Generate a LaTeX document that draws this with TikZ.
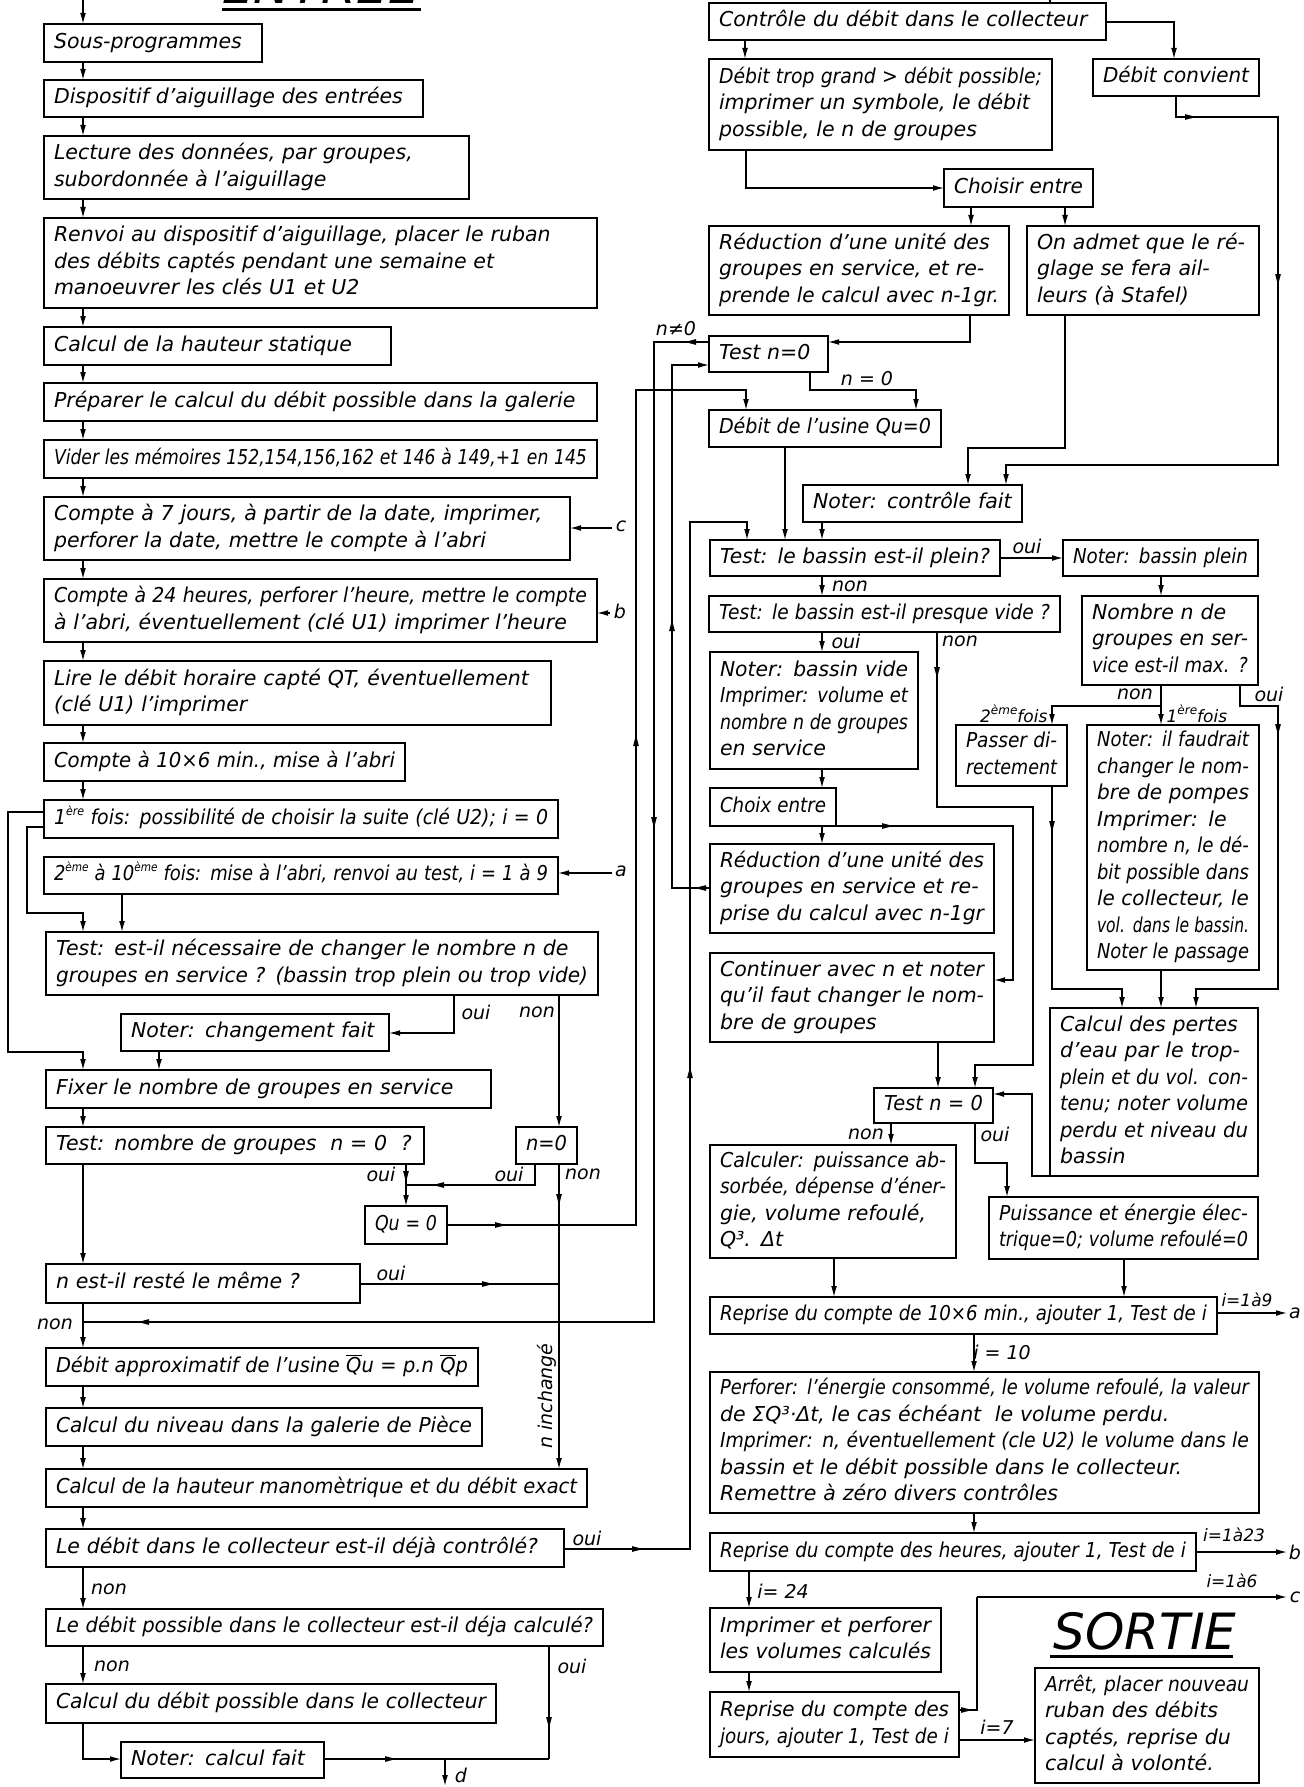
\documentclass[tikz,border=0pt]{standalone}
\usepackage{fontspec}
\setmainfont{DejaVu Sans}[ItalicFont={DejaVu Sans Oblique}]
\usepackage{graphicx}
\usetikzlibrary{arrows.meta}
\newsavebox\flbox
\newcommand\fitl[1]{\strut\sbox\flbox{#1}\ifdim\wd\flbox>\linewidth\resizebox{\linewidth}{\height}{\usebox\flbox}\else\usebox\flbox\fi}
\newcommand\mainf{\fontsize{20.5}{26.5}\selectfont\itshape}
\newcommand\labf{\fontsize{19}{22}\selectfont\itshape}
\newcommand\smf{\fontsize{17}{20}\selectfont\itshape}
\newcommand\titf{\fontsize{50}{56}\selectfont\itshape}
\newcommand\sups[1]{\raisebox{0.45em}{\fontsize{12}{12}\selectfont #1}}
\newcommand\Qb{$\overline{\hbox{Q}}$}
\newcommand\bxx[6]{\pgfmathsetmacro\bw{#4-#2}\pgfmathsetmacro\bh{#5-#3}\pgfmathsetmacro\tw{#4-#2-20}%
  \node[bx,minimum width=\bw pt,minimum height=\bh pt,text width=\tw pt] (#1) at (#2,#3) {#6};}
% mid-line arrowheads (filled triangles), tip near the given point
\newcommand\arD[2]{\fill (#1,#2+5) -- (#1-2.9,#2-6) -- (#1+2.9,#2-6) -- cycle;}
\newcommand\arU[2]{\fill (#1,#2-5) -- (#1-2.9,#2+6) -- (#1+2.9,#2+6) -- cycle;}
\newcommand\arR[2]{\fill (#1+5,#2) -- (#1-6,#2-2.9) -- (#1-6,#2+2.9) -- cycle;}
\newcommand\arL[2]{\fill (#1-5,#2) -- (#1+6,#2-2.9) -- (#1+6,#2+2.9) -- cycle;}
\begin{document}
\begin{tikzpicture}[x=1pt,y=-1pt,line width=1.3pt,
  arr/.style={-{Latex[length=11pt,width=5.8pt]}},
  bx/.style={draw, anchor=north west, inner xsep=10pt, inner ysep=2pt, outer sep=0pt, align=left, font=\mainf},
  lab/.style={font=\labf, inner sep=0pt},
  sml/.style={font=\smf, inner sep=0pt}]
\useasboundingbox (0,0) rectangle (1303,1787);

% titles
\node[font=\titf, anchor=base, inner sep=0pt] (ent) at (321,4) {ENTRÉE};
\draw[line width=3pt] (222,10) -- (421,10);
\node[font=\titf, anchor=base, inner sep=0pt] (sor) at (1145,1649) {SORTIE};
\draw[line width=3pt] (1050,1656) -- (1233,1656);

% left column
\bxx{L1}{44}{24}{262}{62}{\fitl{Sous-programmes}}
\bxx{L2}{44}{80}{423}{117}{\fitl{Dispositif d'aiguillage des entrées}}
\bxx{L3}{44}{136}{469}{199}{\fitl{Lecture des données, par groupes,}\\\fitl{subordonnée à l'aiguillage}}
\bxx{L4}{44}{218}{597}{308}{\fitl{Renvoi au dispositif d'aiguillage, placer le ruban}\\\fitl{des débits captés pendant une semaine et}\\\fitl{manoeuvrer les clés U1 et U2}}
\bxx{L5}{44}{327}{391}{365}{\fitl{Calcul de la hauteur statique}}
\bxx{L6}{44}{383}{597}{421}{\fitl{Préparer le calcul du débit possible dans la galerie}}
\bxx{L7}{44}{440}{597}{478}{\fitl{Vider les mémoires 152,154,156,162 et 146 à 149,+1 en 145}}
\bxx{L8}{44}{497}{570}{560}{\fitl{Compte à 7 jours, à partir de la date, imprimer,}\\\fitl{perforer la date, mettre le compte à l'abri}}
\bxx{L9}{44}{579}{597}{642}{\fitl{Compte à 24 heures, perforer l'heure, mettre le compte}\\\fitl{à l'abri, éventuellement (clé U1) imprimer l'heure}}
\bxx{L10}{44}{661}{551}{725}{\fitl{Lire le débit horaire capté QT, éventuellement}\\\fitl{(clé U1) l'imprimer}}
\bxx{L11}{44}{743}{405}{781}{\fitl{Compte à 10×6 min., mise à l'abri}}
\bxx{L12}{44}{800}{558}{838}{\fitl{1\sups{ère} fois: possibilité de choisir la suite (clé U2); i = 0}}
\bxx{L13}{44}{857}{558}{894}{\fitl{2\sups{ème} à 10\sups{ème} fois: mise à l'abri, renvoi au test, i = 1 à 9}}
\bxx{L14}{46}{932}{598}{995}{\fitl{Test: est-il nécessaire de changer le nombre n de}\\\fitl{groupes en service ? (bassin trop plein ou trop vide)}}
\bxx{L15}{121}{1014}{389}{1051}{\fitl{Noter: changement fait}}
\bxx{L16}{46}{1070}{491}{1108}{\fitl{Fixer le nombre de groupes en service}}
\bxx{L17}{46}{1127}{424}{1164}{\fitl{Test: nombre de groupes \ n = 0 \ ?}}
\bxx{L18}{516}{1127}{577}{1164}{\fitl{n=0}}
\bxx{L19}{365}{1206}{447}{1244}{\fitl{Qu = 0}}
\bxx{L20}{46}{1264}{360}{1303}{\fitl{n est-il resté le même ?}}
\bxx{L21}{46}{1348}{478}{1386}{\fitl{Débit approximatif de l'usine \Qb u = p.n \Qb p}}
\bxx{L22}{46}{1408}{482}{1446}{\fitl{Calcul du niveau dans la galerie de Pièce}}
\bxx{L23}{46}{1469}{587}{1507}{\fitl{Calcul de la hauteur manomètrique et du débit exact}}
\bxx{L24}{46}{1529}{564}{1567}{\fitl{Le débit dans le collecteur est-il déjà contrôlé?}}
\bxx{L25}{46}{1609}{603}{1646}{\fitl{Le débit possible dans le collecteur est-il déja calculé?}}
\bxx{L26}{46}{1684}{496}{1723}{\fitl{Calcul du débit possible dans le collecteur}}
\bxx{L27}{121}{1742}{324}{1778}{\fitl{Noter: calcul fait}}

% right column
\bxx{R1}{709}{3}{1106}{40}{\fitl{Contrôle du débit dans le collecteur}}
\bxx{R2}{709}{59}{1052}{150}{\fitl{Débit trop grand > débit possible;}\\\fitl{imprimer un symbole, le débit}\\\fitl{possible, le n de groupes}}
\bxx{R3}{1093}{59}{1259}{96}{\fitl{Débit convient}}
\bxx{R4}{944}{169}{1093}{207}{\fitl{Choisir entre}}
\bxx{R5}{709}{226}{1009}{315}{\fitl{Réduction d'une unité des}\\\fitl{groupes en service, et re-}\\\fitl{prende le calcul avec n-1gr.}}
\bxx{R6}{1027}{226}{1259}{315}{\fitl{On admet que le ré-}\\\fitl{glage se fera ail-}\\\fitl{leurs (à Stafel)}}
\bxx{R7}{709}{336}{828}{372}{\fitl{Test n=0}}
\bxx{R8}{709}{410}{941}{447}{\fitl{Débit de l'usine Qu=0}}
\bxx{R9}{803}{485}{1022}{522}{\fitl{Noter: contrôle fait}}
\bxx{R10}{710}{540}{1000}{576}{\fitl{Test: le bassin est-il plein?}}
\bxx{R11}{1063}{540}{1258}{576}{\fitl{Noter: bassin plein}}
\bxx{R12}{709}{596}{1060}{632}{\fitl{Test: le bassin est-il presque vide ?}}
\bxx{R13}{1082}{596}{1258}{685}{\fitl{Nombre n de}\\\fitl{groupes en ser-}\\\fitl{vice est-il max. ?}}
\bxx{R14}{710}{652}{918}{769}{\fitl{Noter: bassin vide}\\\fitl{Imprimer: volume et}\\\fitl{nombre n de groupes}\\\fitl{en service}}
\bxx{R15}{956}{725}{1067}{786}{\fitl{Passer di-}\\\fitl{rectement}}
\bxx{R16}{1087}{725}{1259}{970}{\fitl{Noter: il faudrait}\\\fitl{changer le nom-}\\\fitl{bre de pompes}\\\fitl{Imprimer: le}\\\fitl{nombre n, le dé-}\\\fitl{bit possible dans}\\\fitl{le collecteur, le}\\\fitl{vol. dans le bassin.}\\\fitl{Noter le passage}}
\bxx{R17}{710}{788}{836}{826}{\fitl{Choix entre}}
\bxx{R18}{710}{844}{994}{933}{\fitl{Réduction d'une unité des}\\\fitl{groupes en service et re-}\\\fitl{prise du calcul avec n-1gr}}
\bxx{R19}{710}{953}{994}{1042}{\fitl{Continuer avec n et noter}\\\fitl{qu'il faut changer le nom-}\\\fitl{bre de groupes}}
\bxx{R20}{1050}{1008}{1258}{1176}{\fitl{Calcul des pertes}\\\fitl{d'eau par le trop-}\\\fitl{plein et du vol. con-}\\\fitl{tenu; noter volume}\\\fitl{perdu et niveau du}\\\fitl{bassin}}
\bxx{R21}{874}{1088}{993}{1123}{\fitl{Test n = 0}}
\bxx{R22}{710}{1145}{956}{1258}{\fitl{Calculer: puissance ab-}\\\fitl{sorbée, dépense d'éner-}\\\fitl{gie, volume refoulé,}\\\fitl{Q³. Δt}}
\bxx{R23}{989}{1197}{1258}{1259}{\fitl{Puissance et énergie élec-}\\\fitl{trique=0; volume refoulé=0}}
\bxx{R24}{710}{1297}{1217}{1334}{\fitl{Reprise du compte de 10×6 min., ajouter 1, Test de i}}
\bxx{R25}{710}{1372}{1259}{1513}{\fitl{Perforer: l'énergie consommé, le volume refoulé, la valeur}\\\fitl{de ΣQ³·Δt, le cas échéant \ le volume perdu.}\\\fitl{Imprimer: n, éventuellement (cle U2) le volume dans le}\\\fitl{bassin et le débit possible dans le collecteur.}\\\fitl{Remettre à zéro divers contrôles}}
\bxx{R26}{710}{1533}{1196}{1571}{\fitl{Reprise du compte des heures, ajouter 1, Test de i}}
\bxx{R27}{710}{1608}{941}{1672}{\fitl{Imprimer et perforer}\\\fitl{les volumes calculés}}
\bxx{R28}{710}{1692}{959}{1757}{\fitl{Reprise du compte des}\\\fitl{jours, ajouter 1, Test de i}}
\bxx{R29}{1035}{1668}{1259}{1783}{\fitl{Arrêt, placer nouveau}\\\fitl{ruban des débits}\\\fitl{captés, reprise du}\\\fitl{calcul à volonté.}}

% ---------- left connectors
\draw[arr] (83,0) -- (L1.north -| 83,0);
\foreach \a/\b in {L1/L2,L2/L3,L3/L4,L4/L5,L5/L6,L6/L7,L7/L8,L8/L9,L9/L10,L10/L11,L11/L12,L16/L17,L17/L20,L20/L21,L21/L22,L22/L23,L23/L24,L24/L25,L25/L26}
  \draw[arr] (\a.south -| 83,0) -- (\b.north -| 83,0);
\draw[arr] (L12.west |- 0,827) -- (27,827) -- (27,913) -- (83,913) -- (L14.north -| 83,0);
\draw[arr] (L12.west |- 0,812) -- (8,812) -- (8,1052) -- (83,1052) -- (L16.north -| 83,0);
\draw[arr] (L13.south -| 122,0) -- (L14.north -| 122,0);
\draw[arr] (612,528) -- (L8.east |- 0,528);
\node[lab] (lc) at (621,526) {c};
\draw[arr] (610,613) -- (L9.east |- 0,613);
\node[lab] (lb) at (620,611) {b};
\draw[arr] (612,873) -- (L13.east |- 0,873);
\node[lab] (la) at (621,871) {a};
\draw[arr] (L14.south -| 454,0) -- (454,1033) -- (L15.east |- 0,1033);
\draw[arr] (L14.south -| 559,0) -- (L18.north -| 559,0);
\node[lab] at (476,1012) {oui};
\node[lab] at (537,1012) {non};
\draw[arr] (L15.south -| 159,0) -- (L16.north -| 159,0);
\draw[arr] (L17.south -| 406,0) -- (L19.north -| 406,0);
\arD{406}{1177}
\node[lab] at (381,1174) {oui};
\draw (L18.south -| 535,0) -- (535,1185) -- (406,1185);
\arL{438}{1185}
\node[lab] at (509,1174) {oui};
\draw[arr] (L18.south -| 559,0) -- (L23.north -| 559,0);
\arD{559}{1200}
\node[lab] at (583,1174) {non};
\node[lab, rotate=90] at (547,1396) {n inchangé};
\draw[arr] (L19.east |- 0,1225) -- (636,1225) -- (636,390) -- (746,390) -- (R8.north -| 746,0);
\arR{501}{1225}
\arU{636}{740}
\draw (L20.east |- 0,1284) -- (559,1284);
\arR{488}{1284}
\node[lab] at (391,1273) {oui};
\node[lab] at (55,1324) {non};
\draw (R7.west |- 0,342) -- (654,342) -- (654,1322) -- (83,1322);
\arL{690}{342}
\arD{654}{823}
\arL{143}{1322}
\node[lab] at (676,329) {n≠0};
\draw[arr] (L24.east |- 0,1549) -- (690,1549) -- (690,522) -- (747,522) -- (R10.north -| 747,0);
\arR{638}{1549}
\arU{690}{1072}
\node[lab] at (587,1538) {oui};
\node[lab] at (109,1589) {non};
\node[lab] at (112,1666) {non};
\draw (L25.south -| 549,0) -- (549,1759);
\arD{549}{1723}
\node[lab] at (572,1666) {oui};
\draw[arr] (L26.south -| 83,0) -- (83,1759) -- (L27.west |- 0,1759);
\draw (L27.east |- 0,1759) -- (549,1759);
\arR{391}{1759}
\draw[arr] (445,1759) -- (445,1786);
\node[lab] (ld) at (461,1775) {d};

% ---------- right connectors
\draw (1050,0) -- (R1.north -| 1050,0);
\draw[arr] (R1.east |- 0,22) -- (1174,22) -- (R3.north -| 1174,0);
\draw[arr] (R1.south -| 745,0) -- (R2.north -| 745,0);
\draw[arr] (R2.south -| 746,0) -- (746,188) -- (R4.west |- 0,188);
\draw[arr] (R4.south -| 971,0) -- (R5.north -| 971,0);
\draw[arr] (R4.south -| 1065,0) -- (R6.north -| 1065,0);
\draw[arr] (R3.south -| 1176,0) -- (1176,117) -- (1278,117) -- (1278,465) -- (1006,465) -- (R9.north -| 1006,0);
\arR{1191}{117}
\arD{1278}{280}
\draw[arr] (R5.south -| 970,0) -- (970,342) -- (R7.east |- 0,342);
\draw[arr] (R18.west |- 0,888) -- (672,888) -- (672,365) -- (R7.west |- 0,365);
\arL{700}{888}
\arU{672}{625}
\draw[arr] (R7.south -| 810,0) -- (810,390) -- (916,390) -- (R8.north -| 916,0);
\node[lab] at (867,379) {n = 0};
\draw[arr] (R8.south -| 785,0) -- (R10.north -| 785,0);
\draw[arr] (R6.south -| 1065,0) -- (1065,448) -- (968,448) -- (R9.north -| 968,0);
\draw[arr] (R9.south -| 822,0) -- (R10.north -| 822,0);
\draw[arr] (R10.east |- 0,558) -- (R11.west |- 0,558);
\node[lab] at (1027,546) {oui};
\draw[arr] (R10.south -| 822,0) -- (R12.north -| 822,0);
\node[lab] at (850,586) {non};
\draw[arr] (R11.south -| 1161,0) -- (R13.north -| 1161,0);
\draw[arr] (R12.south -| 822,0) -- (R14.north -| 822,0);
\node[lab] at (846,641) {oui};
\draw[arr] (R12.south -| 937,0) -- (937,807) -- (1033,807) -- (1033,1065) -- (975,1065) -- (R21.north -| 975,0);
\arD{937}{673}
\node[lab] at (960,641) {non};
\draw[arr] (R13.south -| 1161,0) -- (R16.north -| 1161,0);
\draw[arr] (1161,706) -- (1052,706) -- (R15.north -| 1052,0);
\node[lab] at (1135,694) {non};
\node[sml, anchor=east] at (1048,714) {2\sups{ème}fois};
\node[sml, anchor=west] at (1166,714) {1\sups{ère}fois};
\draw[arr] (R13.south -| 1240,0) -- (1240,706) -- (1278,706) -- (1278,989) -- (1196,989) -- (R20.north -| 1196,0);
\arD{1278}{730}
\node[lab] at (1269,694) {oui};
\draw[arr] (R15.south -| 1052,0) -- (1052,989) -- (1122,989) -- (R20.north -| 1122,0);
\arD{1052}{827}
\draw[arr] (R16.south -| 1161,0) -- (R20.north -| 1161,0);
\draw[arr] (R14.south -| 822,0) -- (R17.north -| 822,0);
\draw[arr] (R17.south -| 822,0) -- (R18.north -| 822,0);
\draw[arr] (R17.south east) -- (1013,826) -- (1013,980) -- (R19.east |- 0,980);
\arR{888}{826}
\draw[arr] (R19.south -| 938,0) -- (R21.north -| 938,0);
\draw[arr] (R20.south west) -- (1032,1176) -- (1032,1094) -- (R21.east |- 0,1094);
\draw[arr] (R21.south -| 891,0) -- (R22.north -| 891,0);
\node[lab] at (866,1134) {non};
\draw[arr] (R21.south -| 975,0) -- (975,1163) -- (1007,1163) -- (R23.north -| 1007,0);
\node[lab] at (995,1134) {oui};
\draw[arr] (R22.south -| 834,0) -- (R24.north -| 834,0);
\draw[arr] (R23.south -| 1124,0) -- (R24.north -| 1124,0);
\draw[arr] (R24.east |- 0,1313) -- (1287,1313);
\node[lab] (ra) at (1295,1313) {a};
\node[sml] at (1247,1300) {i=1à9};
\draw[arr] (R24.south -| 974,0) -- (R25.north -| 974,0);
\node[lab] at (1002,1352) {i = 10};
\draw[arr] (R25.south -| 974,0) -- (R26.north -| 974,0);
\draw[arr] (R26.east |- 0,1552) -- (1287,1552);
\node[lab] (rb) at (1295,1552) {b};
\node[sml] at (1234,1535) {i=1à23};
\draw[arr] (R26.south -| 749,0) -- (R27.north -| 749,0);
\node[lab] at (783,1591) {i= 24};
\draw[arr] (R27.south -| 749,0) -- (R28.north -| 749,0);
\draw (R28.east |- 0,1710) -- (977,1710) -- (977,1597);
\draw[arr] (977,1597) -- (1287,1597);
\arR{967}{1710}
\node[lab] (rc) at (1295,1597) {c};
\node[sml] at (1232,1581) {i=1à6};
\draw[arr] (R28.east |- 0,1740) -- (R29.west |- 0,1740);
\node[lab] at (997,1727) {i=7};
\end{tikzpicture}
\end{document}
